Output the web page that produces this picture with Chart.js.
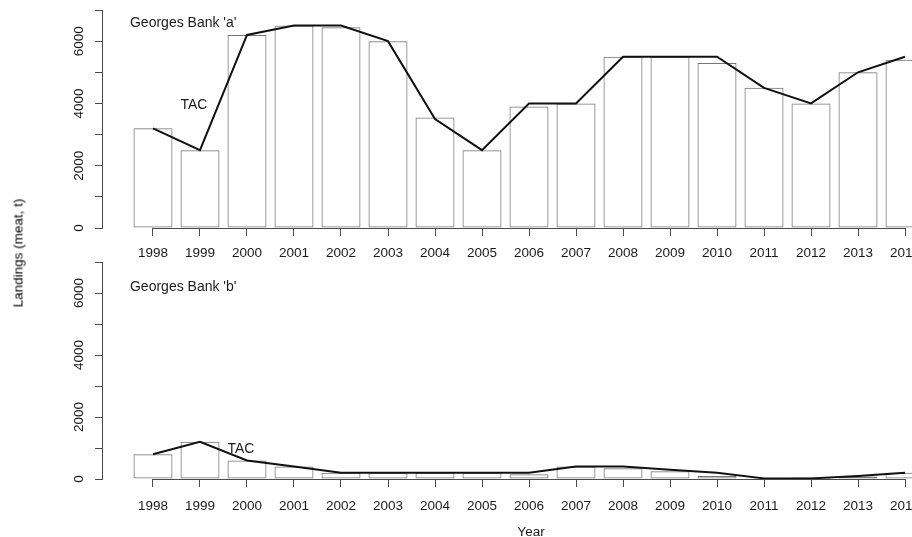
<!DOCTYPE html>
<html>
<head>
<meta charset="utf-8">
<script src="https://cdn.jsdelivr.net/npm/chart.js@4.4.1/dist/chart.umd.min.js"></script>
<style>
  body { margin: 0; background: #fff; width: 912px; height: 537px; overflow: hidden; position: relative; font-family: "Liberation Sans", Arial, sans-serif; }
  canvas { position: absolute; left: 0; }
  #topPanel { top: 0; }
  #botPanel { top: 250px; }
  #ylab { position: absolute; left: 18px; top: 253px; transform: translate(-50%, -50%) rotate(-90deg); font: 400 13.5px "Liberation Sans", Arial, sans-serif; color: #000; white-space: nowrap; -webkit-font-smoothing: antialiased; }
</style>
</head>
<body>
<canvas id="topPanel" width="960" height="262"></canvas>
<canvas id="botPanel" width="960" height="292"></canvas>
<div id="ylab">Landings (meat, t)</div>
<script>
// data
const years = [1998, 1999, 2000, 2001, 2002, 2003, 2004, 2005, 2006, 2007, 2008, 2009, 2010, 2011, 2012, 2013, 2014];
const landingsA = [3200, 2500, 6200, 6500, 6450, 6000, 3550, 2500, 3900, 4000, 5500, 5500, 5300, 4500, 4000, 5000, 5400];
const tacA      = [3200, 2500, 6200, 6500, 6500, 6000, 3500, 2500, 4000, 4000, 5500, 5500, 5500, 4500, 4000, 5000, 5500];
const landingsB = [800, 1200, 600, 400, 200, 200, 200, 200, 150, 400, 350, 250, 100, 10, 50, 80, 200];
const tacB      = [800, 1200, 600, 400, 200, 200, 200, 200, 200, 400, 400, 300, 200, 20, 20, 100, 200];
const yTickValues = [0, 1000, 2000, 3000, 4000, 5000, 6000, 7000];
const yTickLabels = [0, 2000, 4000, 6000];

const FONT = '"Liberation Sans", Arial, sans-serif';
const AXIS = '#4a4a4a';
const TEXT = '#1a1a1a';

// text labels and the axis line (R draws it only between first and last tick)
const annotate = {
  id: 'annotate',
  afterDatasetsDraw(chart, args, opts) {
    const { ctx, scales: { x, y } } = chart;
    ctx.save();
    ctx.strokeStyle = AXIS;
    ctx.lineWidth = 1;
    const yb = Math.round(y.getPixelForValue(0)) + 0.5;
    ctx.beginPath();
    ctx.moveTo(x.getPixelForValue(years[0]), yb);
    ctx.lineTo(x.getPixelForValue(years[years.length - 1]), yb);
    ctx.stroke();
    ctx.fillStyle = TEXT;
    ctx.font = '14px ' + FONT;
    ctx.textBaseline = 'middle';
    opts.labels.forEach(l => {
      ctx.textAlign = l.align;
      ctx.fillText(l.text, x.getPixelForValue(l.x), y.getPixelForValue(l.y));
    });
    ctx.restore();
  }
};

function makePanel(id, landings, tac, cfg) {
  return new Chart(document.getElementById(id), {
    type: 'bar',
    data: {
      datasets: [
        {
          type: 'line',
          label: 'TAC',
          data: years.map((yr, i) => ({ x: yr, y: tac[i] })),
          borderColor: '#111',
          borderWidth: 2,
          pointRadius: 0,
          tension: 0,
          fill: false,
          order: 0
        },
        {
          label: 'Landings',
          data: years.map((yr, i) => ({ x: yr, y: landings[i] })),
          backgroundColor: 'rgba(255,255,255,0)',
          borderColor: '#777',
          borderWidth: 1,
          borderSkipped: false,
          categoryPercentage: 1,
          barPercentage: 0.83,
          order: 1
        }
      ]
    },
    options: {
      responsive: false,
      animation: false,
      layout: { padding: { top: cfg.top, left: 0, right: 0, bottom: 0 } },
      plugins: {
        legend: { display: false },
        tooltip: { enabled: false },
        annotate: { labels: cfg.labels }
      },
      scales: {
        x: {
          type: 'linear',
          offset: false,
          min: 1996.915,
          max: 2015.17,
          afterBuildTicks: s => { s.ticks = years.map(v => ({ value: v })); },
          afterFit: s => { s.height = cfg.xh; s.paddingLeft = 0; s.paddingRight = 0; },
          grid: { offset: false, drawOnChartArea: false, drawTicks: true, tickLength: 8, color: AXIS },
          border: { display: false },
          ticks: {
            autoSkip: false, minRotation: 0, maxRotation: 0, padding: cfg.xpad,
            color: TEXT, font: { family: FONT, size: 13.5 },
            callback: v => String(v)
          },
          title: {
            display: cfg.xTitle, text: 'Year', color: TEXT,
            font: { family: FONT, size: 13.5 }, padding: { top: 0, bottom: 2 }
          }
        },
        y: {
          min: 0,
          max: 7000,
          afterBuildTicks: s => { s.ticks = yTickValues.map(v => ({ value: v })); },
          afterFit: s => { s.width = 102; s.paddingTop = 0; s.paddingBottom = 0; },
          grid: { drawOnChartArea: false, drawTicks: true, tickLength: 7, color: AXIS },
          border: { display: true, color: AXIS, width: 1 },
          ticks: {
            autoSkip: false, minRotation: 90, maxRotation: 90, crossAlign: 'center', padding: 1,
            color: TEXT, font: { family: FONT, size: 13.5 },
            callback: v => yTickLabels.includes(v) ? String(v) : ''
          }
        }
      }
    },
    plugins: [annotate]
  });
}

makePanel('topPanel', landingsA, tacA, {
  top: 10, xh: 34, xpad: 9, xTitle: false,
  labels: [
    { text: "Georges Bank 'a'", x: 1997.51, y: 6580, align: 'left' },
    { text: 'TAC', x: 1998.87, y: 3950, align: 'center' }
  ]
});

makePanel('botPanel', landingsB, tacB, {
  top: 12, xh: 63, xpad: 11, xTitle: true,
  labels: [
    { text: "Georges Bank 'b'", x: 1997.51, y: 6190, align: 'left' },
    { text: 'TAC', x: 1999.87, y: 953, align: 'center' }
  ]
});
</script>
</body>
</html>
